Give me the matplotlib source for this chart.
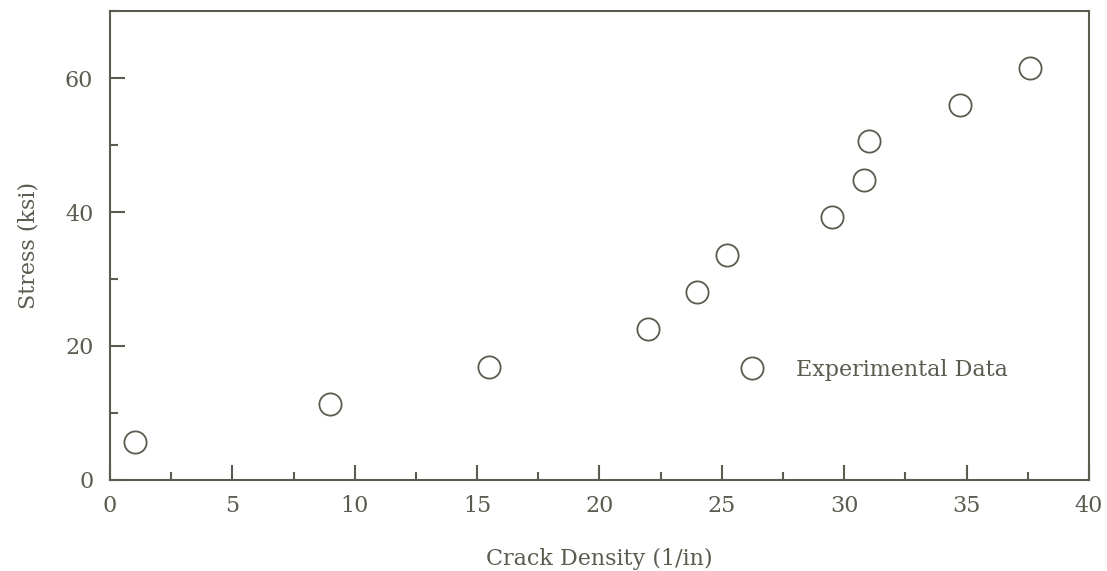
import matplotlib
matplotlib.use("Agg")
import matplotlib.pyplot as plt
from matplotlib.ticker import MultipleLocator

crack_density = [1.0, 9.0, 15.5, 22.0, 24.0, 25.2, 29.5, 30.8, 31.0, 34.75, 37.6]
stress = [5.6, 11.3, 16.8, 22.5, 28.0, 33.6, 39.2, 44.8, 50.6, 56.0, 61.5]

ink = '#585d4f'
plt.rcParams['font.family'] = ['DejaVu Serif']
plt.rcParams['text.color'] = ink

fig = plt.figure(figsize=(11.07, 5.71), dpi=100)
ax = fig.add_axes([0.0994, 0.1594, 0.8843, 0.8213])

ax.plot(crack_density, stress, linestyle='none', marker='o', markersize=16,
        markerfacecolor='none', markeredgecolor=ink, markeredgewidth=1.3,
        label='Experimental Data')

ax.set_xlim(0, 40)
ax.set_ylim(0, 70)
ax.xaxis.set_major_locator(MultipleLocator(5))
ax.xaxis.set_minor_locator(MultipleLocator(2.5))
ax.yaxis.set_major_locator(MultipleLocator(20))
ax.yaxis.set_minor_locator(MultipleLocator(10))
ax.tick_params(which='both', direction='in', colors=ink, labelsize=16, width=1.5)
ax.tick_params(which='major', length=11, pad=11)
ax.tick_params(which='minor', length=6)
ax.tick_params(axis='y', pad=12)
for s in ax.spines.values():
    s.set_color(ink)
    s.set_linewidth(1.5)

ax.set_xlabel('Crack Density (1/in)', fontsize=16, color=ink, labelpad=22)
ax.set_ylabel('Stress (ksi)', fontsize=16, color=ink, labelpad=18)

ax.legend(loc='center left', bbox_to_anchor=(0.622, 0.235), frameon=False,
          fontsize=16, handlelength=1.2, handletextpad=1.38, numpoints=1)

fig.savefig('out.png', dpi=100)
